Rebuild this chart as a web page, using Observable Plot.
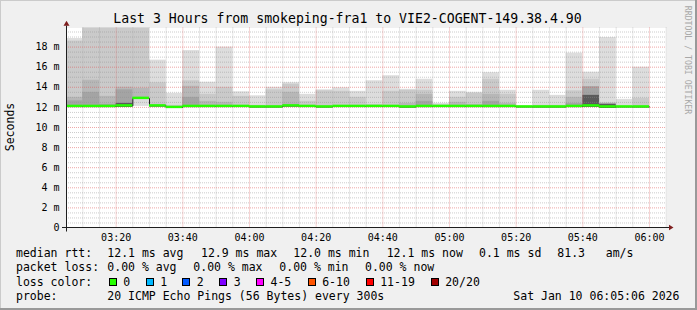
<!DOCTYPE html>
<html><head><meta charset="utf-8">
<script src="https://cdn.jsdelivr.net/npm/d3@7"></script>
<script src="https://cdn.jsdelivr.net/npm/@observablehq/plot@0.6"></script>
<style>
html,body{margin:0;padding:0;background:#f0f0f0;}
#wrap{position:relative;width:697px;height:310px;background:#f0f0f0;overflow:hidden;font-family:"DejaVu Sans Mono",monospace;color:#000;}
#wrap .t{position:absolute;white-space:pre;}
#wrap svg{position:absolute;left:0;top:0;}
.sw{position:absolute;width:6px;height:6px;border:1px solid #000;}
</style></head><body><div id="wrap"></div>
<script>
// ---- data (values in milliseconds) ----
const barEnds = ["03:10","03:15","03:20","03:25","03:30","03:35","03:40","03:45","03:50","03:55","04:00","04:05","04:10","04:15","04:20","04:25","04:30","04:35","04:40","04:45","04:50","04:55","05:00","05:05","05:10","05:15","05:20","05:25","05:30","05:35","05:40","05:45","05:50","05:55","06:00"];
const medianMs = [12.10,12.10,12.10,12.15,12.90,12.15,12.00,12.10,12.10,12.10,12.10,12.05,12.05,12.15,12.10,12.05,12.10,12.10,12.10,12.10,12.05,12.10,12.10,12.10,12.10,12.10,12.10,12.05,12.05,12.05,12.10,12.15,12.05,12.05,12.05];
const minMs = [12.05,12.05,12.05,12.05,12.10,12.05,11.95,12.05,12.05,12.05,12.05,12.00,12.00,12.05,12.05,12.00,12.05,12.05,12.05,12.05,12.00,12.05,12.05,12.05,12.05,12.05,12.05,12.05,12.00,12.00,12.05,12.05,12.00,12.00,12.00];
const smoke1 = [18.85,20.5,20.5,20.5,20.5,16.70,13.40,17.65,14.50,18.00,13.55,13.15,14.00,14.45,13.30,13.75,13.95,13.60,14.65,15.15,13.80,14.80,12.40,13.60,13.50,15.45,13.70,12.15,13.70,13.20,17.40,15.50,18.95,12.80,16.00];
const smoke2 = [18.60,20.4,20.4,20.4,20.4,14.45,12.20,14.65,13.30,14.00,13.10,12.20,13.75,14.30,12.60,13.65,13.60,13.00,12.30,13.60,13.70,13.70,12.25,13.00,13.40,14.80,13.30,null,12.20,12.20,13.65,14.80,12.45,null,12.90];
const smoke3 = [13.00,14.70,13.10,14.00,13.90,12.30,null,14.10,12.60,12.50,null,null,null,13.50,null,null,null,null,null,null,12.40,13.30,null,12.50,12.30,13.30,12.40,null,null,null,13.00,14.05,12.40,null,null];
const smoke4 = [12.65,13.50,12.30,13.75,null,null,null,13.00,null,null,null,null,null,12.30,null,null,null,null,null,null,null,12.60,null,null,null,12.60,null,null,null,null,12.40,14.05,12.35,null,null];
const smoke5 = [null,null,null,12.40,null,null,null,null,null,null,null,null,null,null,null,null,null,null,null,null,null,null,null,null,null,null,null,null,null,null,null,13.20,12.30,null,null];
const yTicks = [0,2,4,6,8,10,12,14,16,18];
const xTickLabels = ["03:20","03:40","04:00","04:20","04:40","05:00","05:20","05:40","06:00"];
const lossLabels = ["0","1","2","3","4-5","6-10","11-19","20/20"];
const lossColors = ["#26ff00","#00b8ff","#0059ff","#7e00ff","#ff00ff","#ff5500","#ff0000","#a10000"];
const smokeColors = ["#dddddd","#cacaca","#b7b7b7","#a4a4a4","#5a5a5a"];

// ---- build ----
const day = "2026-01-10T";
const T = s => new Date(day + s + (s.length === 5 ? ":00" : "") + "Z");
const tStart = T("03:05:06"), tEnd = T("06:05:06");
const bars = barEnds.map((e, i) => ({x1: new Date(+T(e) - 300000), x2: T(e), med: medianMs[i], lo: minMs[i]}));
const layers = [smoke1, smoke2, smoke3, smoke4, smoke5].map((arr, j) =>
  bars.map((b, i) => ({x1: b.x1, x2: b.x2, y1: j === 0 ? b.lo : b.med - 0.12, y2: arr[i]}))
      .filter(d => d.y2 != null && d.y2 > d.y1));
const sw = 0.12;
const medLine = bars.map(b => ({x: b.x1, y: b.med})).concat([{x: bars[bars.length-1].x2, y: bars[bars.length-1].med}]);
const xMajor = xTickLabels.map(T);
const xMinor = d3.utcMinute.every(5).range(tStart, tEnd).filter(d => d.getUTCMinutes() % 20 !== 0);
const yMinor = d3.range(0.5, 19.9, 0.5).filter(v => v % 2 !== 0);

const plot = Plot.plot({
  width: 697, height: 250,
  marginLeft: 66, marginRight: 31, marginTop: 27.5, marginBottom: 22.5,
  style: {background: "transparent", fontFamily: "DejaVu Sans Mono", fontSize: "10px", color: "#000", overflow: "visible"},
  x: {type: "utc", domain: [tStart, tEnd]},
  y: {domain: [0, 19.9]},
  marks: [
    Plot.frame({fill: "#ffffff", stroke: null}),
    ...layers.map((L, j) => Plot.rect(L, {x1: "x1", x2: "x2", y1: "y1", y2: "y2", fill: smokeColors[j], clip: true})),
    Plot.ruleY(yMinor, {stroke: "#8f8f8f", strokeOpacity: 0.46, strokeDasharray: "1,1"}),
    Plot.ruleX(xMinor, {stroke: "#8f8f8f", strokeOpacity: 0.46, strokeDasharray: "1,1"}),
    Plot.ruleY(yTicks.filter(v => v > 0), {stroke: "#de5050", strokeOpacity: 0.5, strokeDasharray: "1,1"}),
    Plot.ruleX(xMajor, {stroke: "#de5050", strokeOpacity: 0.5, strokeDasharray: "1,1"}),
    Plot.line(medLine, {x: "x", y: "y", curve: "step-after", stroke: "#202020", strokeWidth: 1, clip: true}),
    Plot.rect(bars, {x1: "x1", x2: "x2", y1: d => d.med - sw, y2: d => d.med + sw, fill: lossColors[0], clip: true}),
    Plot.axisY(yTicks, {tickSize: 0, tickPadding: 7, tickFormat: d => d === 0 ? "0" : d + " m", label: null, fill: "#000"}),
    Plot.axisX(xMajor, {tickSize: 0, tickPadding: 6, tickFormat: d3.utcFormat("%H:%M"), label: null, fill: "#000"})
  ]
});

// axis lines and arrows
const X = plot.scale("x"), Y = plot.scale("y");
const ax = X.range[0] + 0.5, ay = Y.range[0];
const xr = X.range[1];
const g = d3.select(plot).append("g");
g.append("line").attr("x1", ax - 4.5).attr("x2", xr + 3).attr("y1", ay).attr("y2", ay).attr("stroke", "#1f1f1f");
g.append("line").attr("x1", ax).attr("x2", ax).attr("y1", ay + 4).attr("y2", Y.range[1] - 2).attr("stroke", "#1f1f1f");
g.append("path").attr("d", `M${xr+3},${ay-2.7}L${xr+7.5},${ay}L${xr+3},${ay+2.7}Z`).attr("fill", "#7f1f1f");
g.append("path").attr("d", `M${ax-3},${Y.range[1]-1.8}L${ax},${Y.range[1]-6.8}L${ax+3},${Y.range[1]-1.8}Z`).attr("fill", "#7f1f1f");

const wrap = document.getElementById("wrap");
wrap.appendChild(plot);

function txt(s, x, base, size, extra) {
  const d = document.createElement("div");
  d.className = "t"; d.textContent = s;
  d.style.fontSize = size + "px"; d.style.lineHeight = size + "px";
  d.style.left = x + "px"; d.style.top = (base - 0.846 * size) + "px";
  if (extra) Object.assign(d.style, extra);
  wrap.appendChild(d);
  return d;
}
// title
txt("Last 3 Hours from smokeping-fra1 to VIE2-COGENT-149.38.4.90", 0, 22.8, 13.2, {width: "695px", textAlign: "center"});
// y label
const yl = document.createElement("div");
yl.className = "t"; yl.textContent = "Seconds";
Object.assign(yl.style, {fontSize: "11.5px", lineHeight: "11.5px", left: "10.5px", top: "127px", transform: "translate(-50%,-50%) rotate(-90deg)"});
wrap.appendChild(yl);
// watermark
const wm = document.createElement("div");
wm.className = "t"; wm.textContent = "RRDTOOL / TOBI OETIKER";
Object.assign(wm.style, {fontSize: "8.2px", lineHeight: "8.2px", left: "688px", top: "60px", color: "#a8a8a8", transform: "translate(-50%,-50%) rotate(90deg)"});
wrap.appendChild(wm);

// legend
const L = 11.5;
const rows = [
  [258, [[16,"median rtt:"],[107.3,"12.1 ms avg"],[201,"12.9 ms max"],[293.3,"12.0 ms min"],[386.7,"12.1 ms now"],[479,"0.1 ms sd"],[557.3,"81.3   am/s"]]],
  [272.2, [[16,"packet loss:"],[107.3,"0.00 % avg"],[193.3,"0.00 % max"],[279.3,"0.00 % min"],[365,"0.00 % now"]]],
  [286.4, [[16,"loss color:"]]],
  [300.6, [[16,"probe:"],[107.3,"20 ICMP Echo Pings (56 Bytes) every 300s"],[513.3,"Sat Jan 10 06:05:06 2026"]]]
];
rows.forEach(([b, items]) => items.forEach(([x, s]) => txt(s, x, b, L)));
const swX = [108.7,145.7,182.3,219.3,256,307.7,365.7,430.7];
lossLabels.forEach((lab, i) => {
  const s = document.createElement("div");
  s.className = "sw"; s.style.left = swX[i] + "px"; s.style.top = "278px"; s.style.background = lossColors[i];
  wrap.appendChild(s);
  txt(lab, swX[i] + 14.5, 286.4, L);
});
// 3D frame
[["0px","0px","697px","1px","#cbcbcb"],["0px","0px","1px","310px","#cbcbcb"],["0px","308px","697px","2px","#999999"],["695px","0px","2px","310px","#999999"]].forEach(([l,t,w,h,c]) => {
  const f = document.createElement("div");
  Object.assign(f.style, {position:"absolute", left:l, top:t, width:w, height:h, background:c});
  wrap.appendChild(f);
});
</script></body></html>
